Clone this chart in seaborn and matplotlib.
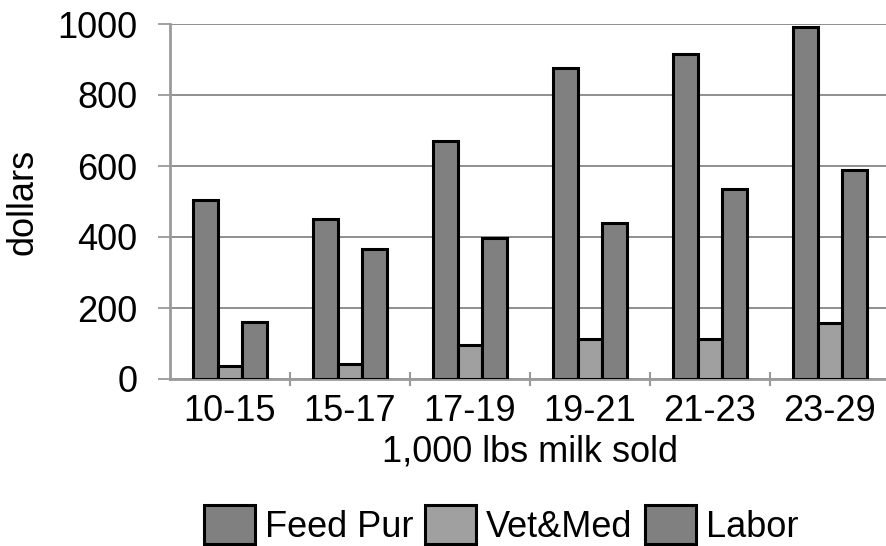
import numpy as np
import pandas as pd
import matplotlib
matplotlib.use('Agg')
import matplotlib.pyplot as plt
import seaborn as sns

# ========== 数据 ==========
ranges = ['10-15', '15-17', '17-19', '19-21', '21-23', '23-29']
feed_pur = [504, 452, 670, 875, 916, 992]
vet_med = [37, 42, 96, 113, 112, 158]
labor = [161, 367, 397, 440, 536, 588]
series = ['Feed Pur', 'Vet&Med', 'Labor']

C_DARK = '#808080'
C_LIGHT = '#A0A0A0'
C_GRID = '#878787'
C_AXIS = '#9a9a9a'
FS = 26

df = pd.DataFrame({
    'range': ranges * 3,
    'value': feed_pur + vet_med + labor,
    'series': [s for s in series for _ in ranges],
})

sns.set_theme(style='white', rc={
    'xtick.bottom': True, 'ytick.left': True,
    'text.color': 'black', 'axes.labelcolor': 'black',
    'xtick.labelcolor': 'black', 'ytick.labelcolor': 'black',
})
plt.rcParams['font.family'] = ['Liberation Sans', 'DejaVu Sans']

fig = plt.figure(figsize=(8.86, 5.46), dpi=100)
ax = fig.add_axes([170 / 886, 1 - 379 / 546, 720 / 886, 355 / 546])

sns.barplot(data=df, x='range', y='value', hue='series', hue_order=series,
            palette=[C_DARK, C_LIGHT, C_DARK], saturation=1,
            width=0.62, gap=0, edgecolor='black', linewidth=2.2,
            ax=ax, zorder=3)

ax.set_xlim(-0.5, 5.5)
ax.set_ylim(0, 1000)
ax.set_yticks(np.arange(0, 1001, 200))
ax.yaxis.grid(True, color=C_GRID, linewidth=1.3, zorder=0)
ax.set_axisbelow(True)

for s in ['top', 'right']:
    ax.spines[s].set_visible(False)
for s in ['left', 'bottom']:
    ax.spines[s].set_color(C_AXIS)
    ax.spines[s].set_linewidth(2)

# 类别分隔刻度
ax.set_xticks(np.arange(0.5, 5.5, 1), minor=True)
ax.tick_params(axis='x', which='major', length=0, pad=11, labelsize=FS,
               labelcolor='black')
ax.tick_params(axis='x', which='minor', direction='inout', length=10,
               width=1.5, color=C_AXIS, bottom=True)
ax.tick_params(axis='y', direction='out', length=8.5, width=1.3,
               color=C_AXIS, pad=15, labelsize=FS, left=True, labelcolor='black')

ax.set_xlabel('1,000 lbs milk sold', fontsize=FS, labelpad=4, color='black')
ax.set_ylabel('dollars', fontsize=FS, labelpad=12, color='black')

handles, labels = ax.get_legend_handles_labels()
ax.get_legend().remove()
fig.legend(handles, labels, loc='center', bbox_to_anchor=(501 / 886, 1 - 525 / 546),
           ncol=3, frameon=False, fontsize=FS, handlelength=1.41, handleheight=1.25,
           handletextpad=0.28, columnspacing=0.33, borderaxespad=0)

fig.savefig('out.png', dpi=100)
